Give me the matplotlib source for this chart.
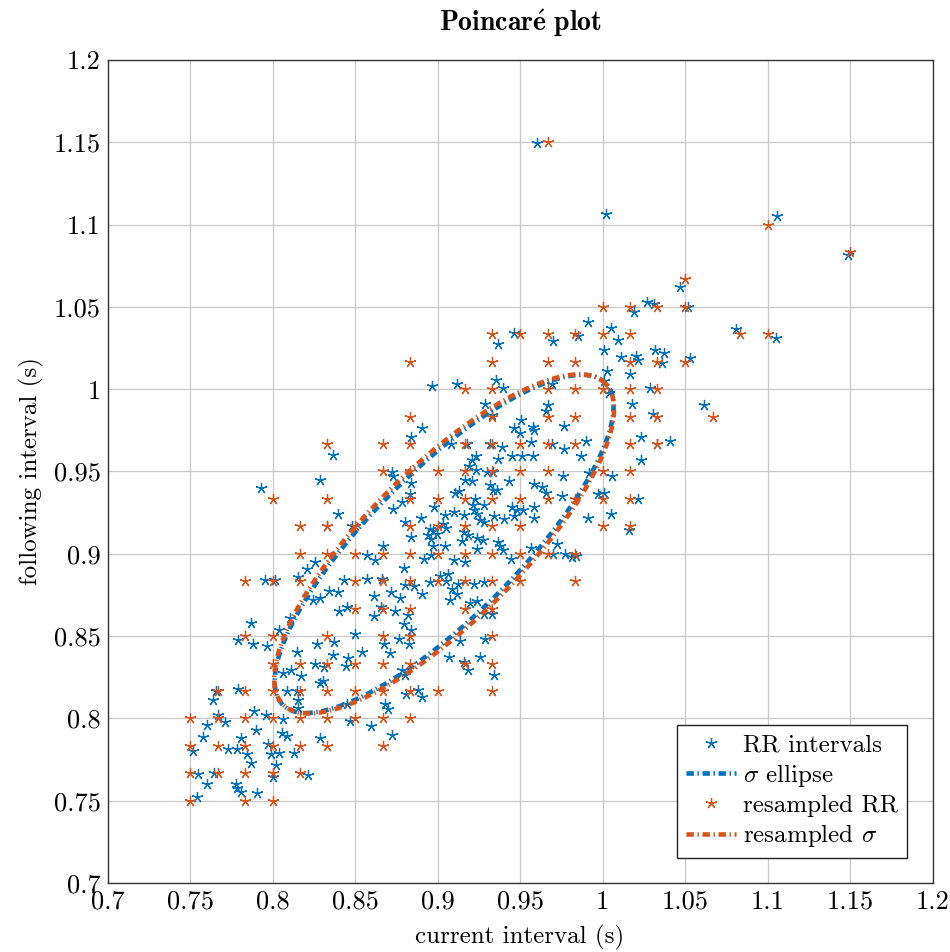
import numpy as np
import matplotlib
matplotlib.use("Agg")
import matplotlib.pyplot as plt

plt.rcParams['font.family'] = ['cmr10', 'DejaVu Serif']
plt.rcParams['mathtext.fontset'] = 'cm'
plt.rcParams['axes.unicode_minus'] = False

# ---------------------------------------------------------
# Data
# ---------------------------------------------------------

# RR intervals (current, following), seconds
rr_pts = [
    (0.7868, 0.8579), (0.8039, 0.8538), (0.7793, 0.8478), (0.7880, 0.8449), (0.7969, 0.8437),
    (0.8268, 0.8454), (0.8375, 0.8464), (0.8500, 0.8510), (0.8146, 0.8403), (0.8369, 0.8383),
    (0.8460, 0.8369), (0.8258, 0.8332), (0.8312, 0.8312), (0.8443, 0.8316), (0.8062, 0.8276),
    (0.8110, 0.8292), (0.8173, 0.8256), (0.8288, 0.8215), (0.8308, 0.8225), (0.7658, 0.8167),
    (0.7641, 0.8110), (0.7793, 0.8181), (0.8090, 0.8165), (0.8146, 0.8165), (0.8157, 0.8110),
    (0.8157, 0.8066), (0.8449, 0.8090), (0.7888, 0.8045), (0.7961, 0.8023), (0.8066, 0.7995),
    (0.7672, 0.8023), (0.7601, 0.7959), (0.7712, 0.7975), (0.8470, 0.7983), (0.7581, 0.7884),
    (0.7900, 0.7932), (0.7809, 0.7878), (0.8056, 0.7912), (0.8086, 0.7892), (0.8288, 0.7878),
    (0.7520, 0.7801), (0.7732, 0.7817), (0.7787, 0.7817), (0.7843, 0.7783), (0.7975, 0.7843),
    (0.7989, 0.7783), (0.8041, 0.7791), (0.8130, 0.7791), (0.7868, 0.7730), (0.8021, 0.7714),
    (0.7550, 0.7662), (0.7647, 0.7670), (0.8000, 0.7641), (0.8217, 0.7654), (0.7601, 0.7601),
    (0.7779, 0.7601), (0.7783, 0.7575), (0.7809, 0.7555), (0.7908, 0.7545), (0.7540, 0.7524),
    (0.8365, 0.9601), (0.8288, 0.9450), (0.7928, 0.9399), (0.8399, 0.9239), (0.8328, 0.9167),
    (0.8480, 0.9167), (0.8258, 0.8950), (0.8207, 0.8910), (0.8157, 0.8860), (0.7955, 0.8840),
    (0.8015, 0.8840), (0.8342, 0.8775), (0.8399, 0.8769), (0.8288, 0.8734), (0.8243, 0.8722),
    (0.8435, 0.8840), (0.8405, 0.8654), (0.8450, 0.8678), (0.8106, 0.8607),
    (0.8798, 0.8571), (0.8838, 0.8534), (0.8769, 0.8484), (0.8677, 0.8450), (0.8830, 0.8450),
    (0.8709, 0.8399), (0.8541, 0.8403), (0.9137, 0.8470), (0.9289, 0.8480), (0.9067, 0.8373),
    (0.9255, 0.8373), (0.9162, 0.8342), (0.9184, 0.8292), (0.9345, 0.8262), (0.8784, 0.8292),
    (0.8804, 0.8262), (0.8810, 0.8150), (0.8879, 0.8171), (0.8905, 0.8130), (0.8679, 0.8090),
    (0.8699, 0.8060), (0.8598, 0.7953), (0.8727, 0.7902),
    (0.9081, 0.9664), (0.9178, 0.9664), (0.9315, 0.9664), (0.9390, 0.9647), (0.9566, 0.9678),
    (0.9234, 0.9591), (0.9208, 0.9571), (0.9366, 0.9577), (0.9450, 0.9591), (0.9511, 0.9591),
    (0.9578, 0.9591), (0.9188, 0.9536), (0.9234, 0.9510), (0.9299, 0.9496), (0.9339, 0.9496),
    (0.8723, 0.9496), (0.8733, 0.9470), (0.9168, 0.9449), (0.9208, 0.9441), (0.9436, 0.9445),
    (0.9582, 0.9425), (0.8838, 0.9429), (0.8834, 0.9365), (0.9103, 0.9369), (0.9133, 0.9381),
    (0.9315, 0.9415), (0.9339, 0.9389), (0.9359, 0.9385), (0.9228, 0.9334), (0.9279, 0.9294),
    (0.9214, 0.9294), (0.9218, 0.9264), (0.9238, 0.9240), (0.9450, 0.9284), (0.9481, 0.9264),
    (0.9517, 0.9264), (0.9586, 0.9284), (0.9582, 0.9219), (0.8784, 0.9314), (0.8729, 0.9274),
    (0.8980, 0.9284), (0.8899, 0.9219), (0.8804, 0.9193), (0.9046, 0.9233), (0.9101, 0.9254),
    (0.9158, 0.9233), (0.9345, 0.9227), (0.9404, 0.9213), (0.9465, 0.9227), (0.9259, 0.9203),
    (0.9279, 0.9193), (0.9036, 0.9183), (0.9053, 0.9159), (0.8972, 0.9138), (0.8996, 0.9122),
    (0.8956, 0.9153), (0.9158, 0.9132), (0.9182, 0.9112), (0.8838, 0.9102), (0.8945, 0.9112),
    (0.8960, 0.9092), (0.9240, 0.9098), (0.9275, 0.9086), (0.9046, 0.9045), (0.8972, 0.9045),
    (0.9147, 0.9078), (0.9240, 0.9031), (0.9364, 0.9072), (0.9380, 0.9045), (0.9396, 0.9025),
    (0.8669, 0.9045), (0.8572, 0.8991), (0.8622, 0.8965), (0.8915, 0.8971), (0.8960, 0.8991),
    (0.9101, 0.8965), (0.9168, 0.8951), (0.9444, 0.8971), (0.9566, 0.9037), (0.8794, 0.8914),
    (0.8572, 0.8844), (0.8663, 0.8844), (0.9012, 0.8864), (0.9061, 0.8876), (0.9053, 0.8836),
    (0.8956, 0.8830), (0.9127, 0.8819), (0.8804, 0.8809), (0.8859, 0.8803), (0.9218, 0.8815),
    (0.9279, 0.8829), (0.8719, 0.8769), (0.8770, 0.8734), (0.8905, 0.8754), (0.9087, 0.8789),
    (0.9117, 0.8754), (0.9073, 0.8718), (0.8612, 0.8745), (0.9198, 0.8702), (0.9238, 0.8714),
    (0.8657, 0.8678), (0.8743, 0.8654), (0.8616, 0.8621), (0.8824, 0.8627), (0.9283, 0.8637),
    (0.9329, 0.8633),
    (0.9465, 1.0342), (0.9366, 1.0272), (0.9356, 1.0056), (0.9396, 1.0010), (0.9117, 1.0031),
    (0.8968, 1.0021), (0.9289, 0.9910), (0.9329, 0.9843), (0.9505, 0.9813), (0.8905, 0.9763),
    (0.8838, 0.9712), (0.9465, 0.9763), (0.9497, 0.9732), (0.9576, 0.9773), (0.9586, 0.9749),
    (1.0471, 1.0621), (1.0269, 1.0530), (1.0309, 1.0520), (1.0192, 1.0470), (1.0519, 1.0500),
    (0.9909, 1.0409), (1.0050, 1.0369), (0.9853, 1.0323), (0.9701, 1.0295), (1.0091, 1.0299),
    (1.0010, 1.0238), (1.0111, 1.0198), (1.0202, 1.0204), (1.0212, 1.0178), (1.0319, 1.0238),
    (1.0370, 1.0218), (1.0358, 1.0158), (1.0531, 1.0188), (1.0030, 1.0111), (1.0168, 1.0091),
    (1.0010, 1.0051), (1.0289, 1.0010), (0.9691, 1.0030), (1.0040, 0.9978), (0.9667, 0.9903),
    (0.9657, 0.9867), (1.0176, 0.9909), (1.0303, 0.9849), (1.0616, 0.9903), (0.9764, 0.9776),
    (1.0232, 0.9712),
    (0.9691, 0.9668), (0.9764, 0.9637), (0.9869, 0.9591), (0.9899, 0.9688), (1.0236, 0.9567),
    (1.0333, 0.9664), (1.0410, 0.9688), (0.9915, 0.9490), (1.0057, 0.9470), (0.9758, 0.9470),
    (0.9636, 0.9405), (0.9657, 0.9369), (0.9752, 0.9349), (0.9970, 0.9365), (1.0010, 0.9369),
    (1.0218, 0.9330), (1.0050, 0.9243), (0.9909, 0.9219), (1.0162, 0.9146), (0.9727, 0.9058),
    (0.9697, 0.9001), (0.9772, 0.9001), (0.9812, 0.8981), (0.9838, 0.8985),
    (1.1057, 1.1050), (1.1485, 1.0814), (1.0808, 1.0364), (1.1050, 1.0313), (0.9601, 1.1494),
    (1.0019, 1.1064),
]

# resampled RR intervals (sit on a 1/60 s grid)
rs_pts = [
    (0.7833, 0.85), (0.8, 0.85), (0.8333, 0.85), (0.8, 0.8333), (0.8167, 0.8333),
    (0.8333, 0.8333), (0.85, 0.8333), (0.7667, 0.8167), (0.7833, 0.8167), (0.8, 0.8167),
    (0.8167, 0.8167), (0.8333, 0.8167), (0.85, 0.8167), (0.75, 0.8), (0.7667, 0.8),
    (0.7833, 0.8), (0.8, 0.8), (0.8167, 0.8), (0.8333, 0.8), (0.85, 0.8),
    (0.75, 0.7833), (0.7667, 0.7833), (0.7833, 0.7833), (0.8, 0.7833), (0.8167, 0.7833),
    (0.8333, 0.7833), (0.75, 0.7667), (0.7667, 0.7667), (0.7833, 0.7667), (0.8, 0.7667),
    (0.8167, 0.7667), (0.75, 0.75), (0.7833, 0.75), (0.8, 0.75),
    (0.8333, 0.9667), (0.8, 0.9333), (0.8333, 0.9333), (0.8167, 0.9167), (0.8333, 0.9167),
    (0.85, 0.9167), (0.8167, 0.9), (0.8333, 0.9), (0.85, 0.9), (0.7833, 0.8833),
    (0.8, 0.8833), (0.8167, 0.8833), (0.85, 0.8833), (0.85, 0.8667),
    (0.8667, 0.85), (0.8833, 0.85), (0.9333, 0.85), (0.8667, 0.8333), (0.8833, 0.8333),
    (0.9167, 0.8333), (0.9333, 0.8333), (0.8667, 0.8167), (0.8833, 0.8167), (0.9, 0.8167),
    (0.9333, 0.8167), (0.8667, 0.8), (0.8833, 0.8), (0.8667, 0.7833),
    (0.8667, 0.9667), (0.8833, 0.9667), (0.9167, 0.9667), (0.9333, 0.9667), (0.95, 0.9667),
    (0.8667, 0.95), (0.8833, 0.95), (0.9, 0.95), (0.9167, 0.95), (0.9333, 0.95), (0.95, 0.95),
    (0.8833, 0.9333), (0.9, 0.9333), (0.9167, 0.9333), (0.9333, 0.9333), (0.95, 0.9333),
    (0.8833, 0.9167), (0.9, 0.9167), (0.9167, 0.9167), (0.9333, 0.9167), (0.95, 0.9167),
    (0.8667, 0.9), (0.8833, 0.9), (0.9, 0.9), (0.9167, 0.9), (0.9333, 0.9), (0.95, 0.9),
    (0.8667, 0.8833), (0.8833, 0.8833), (0.9, 0.8833), (0.9167, 0.8833), (0.9333, 0.8833),
    (0.95, 0.8833), (0.8667, 0.8667), (0.8833, 0.8667), (0.9167, 0.8667), (0.9333, 0.8667),
    (0.9333, 1.0333), (0.95, 1.0333), (0.8833, 1.0167), (0.9333, 1.0167), (0.9167, 1.0),
    (0.9333, 1.0), (0.8833, 0.9833), (0.9333, 0.9833),
    (1.05, 1.0667), (1.0, 1.05), (1.0167, 1.05), (1.0333, 1.05), (1.05, 1.05),
    (0.9667, 1.0333), (0.9833, 1.0333), (1.0, 1.0333), (1.0167, 1.0333), (0.9667, 1.0167),
    (0.9833, 1.0167), (1.0167, 1.0167), (1.0333, 1.0167), (1.05, 1.0167), (0.9667, 1.0),
    (0.9833, 1.0), (1.0, 1.0), (1.0167, 1.0), (1.0333, 1.0), (0.9667, 0.9833),
    (0.9833, 0.9833), (1.0167, 0.9833), (1.0333, 0.9833), (1.0667, 0.9833),
    (0.9667, 0.9667), (0.9833, 0.9667), (1.0167, 0.9667), (1.0333, 0.9667), (0.9667, 0.95),
    (1.0, 0.95), (1.0167, 0.95), (0.9667, 0.9333), (0.9833, 0.9333), (1.0, 0.9333),
    (1.0167, 0.9333), (1.0, 0.9167), (1.0167, 0.9167), (0.9667, 0.9), (0.9833, 0.9),
    (0.9833, 0.8833),
    (1.1, 1.1), (1.15, 1.0833), (1.0833, 1.0333), (1.1, 1.0333), (0.9667, 1.15),
]

# sigma ellipses: centre and semi-axes (along / across the identity line)
rr_center = (0.904, 0.906)
rr_sd2, rr_sd1 = 0.1383, 0.0444
rs_center = (0.904, 0.906)
rs_sd2, rs_sd1 = 0.1380, 0.0465

ticks = [0.7, 0.75, 0.8, 0.85, 0.9, 0.95, 1.0, 1.05, 1.1, 1.15, 1.2]
tick_labels = ['0.7', '0.75', '0.8', '0.85', '0.9', '0.95', '1', '1.05', '1.1', '1.15', '1.2']

blue = '#0072BD'
orange = '#D95319'


def ellipse(center, sd2, sd1, n=400):
    t = np.linspace(0, 2 * np.pi, n)
    u = sd2 * np.cos(t)
    v = sd1 * np.sin(t)
    return center[0] + (u - v) / np.sqrt(2), center[1] + (u + v) / np.sqrt(2)


rr = np.array(rr_pts)
rs = np.array(rs_pts)

fig = plt.figure(figsize=(9.5, 9.52), dpi=100)
ax = fig.add_axes([0.1132, 0.0725, 0.8684, 0.8645])

star = (5, 2, 0)
dash_dot = (0, (1.6, 0.8, 0.3, 0.8))

ax.plot(rr[:, 0], rr[:, 1], linestyle='none', marker=star, ms=8, mew=0.9,
        color=blue, label='RR intervals')
ex, ey = ellipse(rr_center, rr_sd2, rr_sd1)
ax.plot(ex, ey, color=blue, lw=3.3, linestyle=dash_dot, label=r'$\sigma$ ellipse')
ax.plot(rs[:, 0], rs[:, 1], linestyle='none', marker=star, ms=8, mew=0.9,
        color=orange, label='resampled RR')
ex, ey = ellipse(rs_center, rs_sd2, rs_sd1)
ax.plot(ex, ey, color=orange, lw=3.3, linestyle=dash_dot, label=r'resampled $\sigma$')

ax.set_xlim(0.7, 1.2)
ax.set_ylim(0.7, 1.2)
ax.set_xticks(ticks)
ax.set_xticklabels(tick_labels)
ax.set_yticks(ticks)
ax.set_yticklabels(tick_labels)
ax.tick_params(labelsize=19, direction='in', length=0, pad=5)
ax.grid(True, color='#c8c8c8', lw=0.9)
ax.set_axisbelow(True)
for s in ax.spines.values():
    s.set_color('#333333')
    s.set_linewidth(1.0)

ax.set_xlabel('current interval (s)', fontsize=18, labelpad=8)
ax.set_ylabel('following interval (s)', fontsize=18, labelpad=7)
ax.set_title(r'$\mathbf{Poincar\acute{e}\ plot}$', fontsize=20, pad=21)

leg = ax.legend(loc='lower right', bbox_to_anchor=(907 / 950, 94 / 952),
                bbox_transform=fig.transFigure, borderaxespad=0, fontsize=18,
                fancybox=False, framealpha=1, edgecolor='#222222',
                handlelength=2.0, handletextpad=0.3, borderpad=0.35, labelspacing=0.22)
leg.get_frame().set_linewidth(1.0)

fig.savefig('out.png', dpi=100)
